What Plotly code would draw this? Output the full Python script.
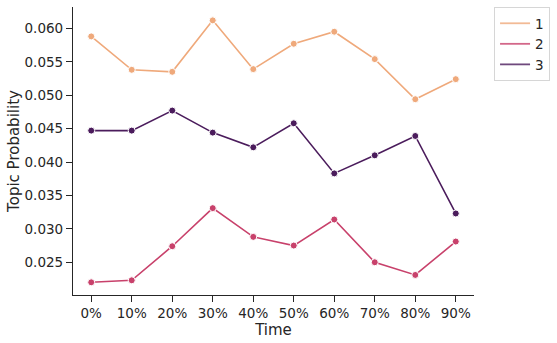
import plotly.graph_objects as go

times = ['0%', '10%', '20%', '30%', '40%', '50%', '60%', '70%', '80%', '90%']
topic_1 = [0.0588, 0.0538, 0.0535, 0.0612, 0.0539, 0.0577, 0.0595, 0.0554, 0.0494, 0.0524]
topic_2 = [0.0220, 0.0223, 0.0274, 0.0331, 0.0288, 0.0275, 0.0314, 0.0250, 0.0231, 0.0281]
topic_3 = [0.0447, 0.0447, 0.0477, 0.0444, 0.0422, 0.0458, 0.0383, 0.0410, 0.0439, 0.0323]
topic_names = ['1', '2', '3']
y_ticks = [0.025, 0.030, 0.035, 0.040, 0.045, 0.050, 0.055, 0.060]

colors = ['#efa97b', '#c8416b', '#4b1c5c']
ink = '#262626'

fig = go.Figure()
for name, vals, c in zip(topic_names, [topic_1, topic_2, topic_3], colors):
    fig.add_trace(go.Scatter(
        x=list(range(len(times))), y=vals, name=name, mode='lines+markers',
        line=dict(color=c, width=1.6), showlegend=False,
        marker=dict(color=c, size=7, line=dict(color='white', width=1)),
    ))
# legend entries drawn as plain lines, like seaborn
for name, c in zip(topic_names, colors):
    fig.add_trace(go.Scatter(
        x=[None], y=[None], name=name, mode='lines', opacity=0.8,
        line=dict(color=c, width=1.8),
    ))

axis_common = dict(
    showline=True, linecolor=ink, linewidth=1.2,
    ticks='outside', ticklen=6, tickwidth=1.2, tickcolor=ink,
    showgrid=False, zeroline=False,
    tickfont=dict(size=13.5, color=ink),
)

fig.update_layout(
    width=557, height=343,
    margin=dict(l=73, r=83, t=7, b=48),
    paper_bgcolor='white', plot_bgcolor='white',
    font=dict(family='DejaVu Sans', color=ink),
    xaxis=dict(
        range=[-0.45, 9.45], tickmode='array',
        tickvals=list(range(len(times))), ticktext=times,
        title=dict(text='Time', font=dict(size=15, color=ink), standoff=3),
        **axis_common,
    ),
    yaxis=dict(
        range=[0.0201, 0.0632], tickmode='array', tickvals=y_ticks,
        tickformat='.3f',
        title=dict(text='Topic Probability', font=dict(size=15, color=ink), standoff=1),
        **axis_common,
    ),
    showlegend=True,
    legend=dict(
        x=1.05, y=1.0, xanchor='left', yanchor='top',
        bordercolor='#d6d6d6', borderwidth=1,
        font=dict(size=13.5, color=ink),
        itemwidth=30,
    ),
)

fig.write_html("out.html", config={'displayModeBar': False},
               post_script="document.body.style.margin='0';")
